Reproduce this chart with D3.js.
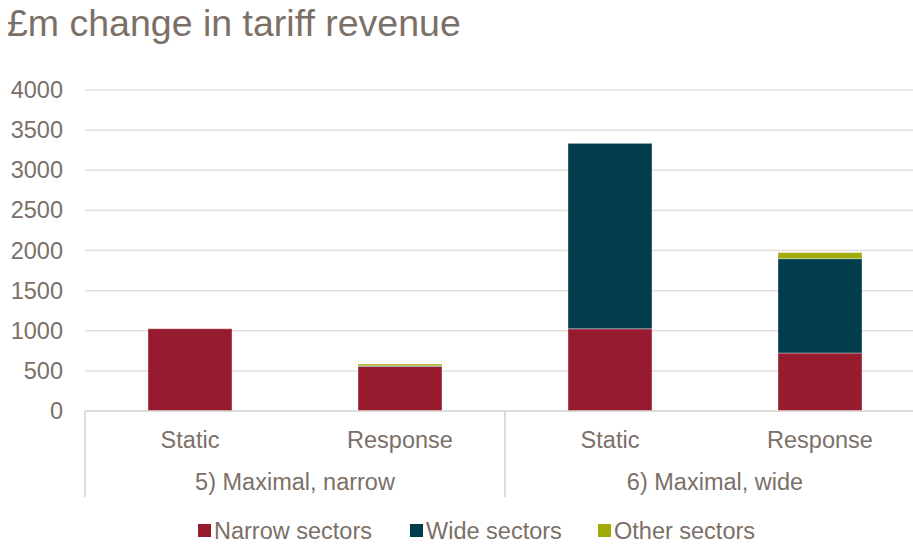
<!DOCTYPE html>
<html>
<head>
<meta charset="utf-8">
<script src="https://cdn.jsdelivr.net/npm/d3@7"></script>
<style>
  html, body { margin: 0; padding: 0; background: #fff; }
  svg { display: block; font-family: "Liberation Sans", Arial, sans-serif; }
</style>
</head>
<body>
<svg id="chart" width="913" height="546"></svg>
<script>
// Scenario groups and the two cases shown within each
const groups = ["5) Maximal, narrow", "6) Maximal, wide"];
const cases = ["Static", "Response"];
const seriesNames = ["Narrow sectors", "Wide sectors", "Other sectors"];
const seriesColors = ["#971b2f", "#023d4e", "#a2aa0a"];

// £m per bar, in order: 5 Static, 5 Response, 6 Static, 6 Response
const narrowValues = [1025, 555, 1025, 723];
const wideValues = [0, 8, 2310, 1175];
const otherValues = [0, 22, 0, 75];

const yTicks = [0, 500, 1000, 1500, 2000, 2500, 3000, 3500, 4000];

const textColor = "#7b7068";
const gridColor = "#e2dedb";
const fontSize = 23.5;

const rows = [];
groups.forEach((g, gi) => cases.forEach((c, ci) => {
  const i = gi * cases.length + ci;
  rows.push({
    key: g + "|" + c, group: g, label: c,
    "Narrow sectors": narrowValues[i],
    "Wide sectors": wideValues[i],
    "Other sectors": otherValues[i]
  });
}));

const svg = d3.select("#chart");
const plotLeft = 85, plotRight = 925, plotTop = 90, plotBottom = 411;

const x = d3.scaleBand()
  .domain(rows.map(d => d.key))
  .range([plotLeft, plotRight])
  .paddingInner(0.6)
  .paddingOuter(0.3);

const y = d3.scaleLinear().domain([0, 4000]).range([plotBottom, plotTop]);

// Title
svg.append("text")
  .attr("x", 7).attr("y", 36)
  .attr("fill", textColor)
  .attr("font-size", 37.5)
  .text("£m change in tariff revenue");

// Gridlines
svg.append("g").selectAll("line")
  .data(yTicks.filter(t => t > 0))
  .join("line")
  .attr("x1", plotLeft).attr("x2", 913)
  .attr("y1", d => y(d)).attr("y2", d => y(d))
  .attr("stroke", gridColor).attr("stroke-width", 1.5);

// Y axis labels
const yAxis = d3.axisLeft(y).tickValues(yTicks).tickFormat(d3.format("d")).tickSize(0).tickPadding(22);
const yG = svg.append("g").attr("transform", `translate(${plotLeft},0)`).call(yAxis);
yG.select(".domain").remove();
yG.selectAll("text")
  .attr("fill", textColor)
  .attr("font-size", fontSize)
  .attr("font-family", "Liberation Sans, Arial, sans-serif");

// Stacked bars
const stack = d3.stack().keys(seriesNames);
const stacked = stack(rows);
svg.append("g").selectAll("g")
  .data(stacked)
  .join("g")
  .attr("fill", (d, i) => seriesColors[i])
  .selectAll("rect")
  .data(d => d.filter(p => p[1] - p[0] > 0))
  .join("rect")
  .attr("x", d => x(d.data.key))
  .attr("width", x.bandwidth())
  .attr("y", d => y(d[1]))
  .attr("height", d => y(d[0]) - y(d[1]))
  .attr("stroke", "#ffffff")
  .attr("stroke-opacity", 0.35)
  .attr("stroke-width", 1);

// Category axis: baseline and group separators
svg.append("line")
  .attr("x1", plotLeft).attr("x2", 913)
  .attr("y1", plotBottom).attr("y2", plotBottom)
  .attr("stroke", "#d6d1cd").attr("stroke-width", 1.5);

const groupWidth = (plotRight - plotLeft) / groups.length;
const sepX = d3.range(groups.length).map(i => plotLeft + i * groupWidth);
svg.append("g").selectAll("line")
  .data(sepX)
  .join("line")
  .attr("x1", d => d).attr("x2", d => d)
  .attr("y1", plotBottom).attr("y2", 497)
  .attr("stroke", "#d6d1cd").attr("stroke-width", 1.5);

// Case labels
svg.append("g").selectAll("text")
  .data(rows)
  .join("text")
  .attr("x", d => x(d.key) + x.bandwidth() / 2)
  .attr("y", 448)
  .attr("text-anchor", "middle")
  .attr("fill", textColor)
  .attr("font-size", fontSize)
  .text(d => d.label);

// Group labels
svg.append("g").selectAll("text")
  .data(groups)
  .join("text")
  .attr("x", (d, i) => {
    const ks = rows.filter(r => r.group === d).map(r => x(r.key) + x.bandwidth() / 2);
    return (d3.min(ks) + d3.max(ks)) / 2;
  })
  .attr("y", 490)
  .attr("text-anchor", "middle")
  .attr("fill", textColor)
  .attr("font-size", fontSize)
  .text(d => d);

// Legend
const legendX = [198, 410, 598];
const legend = svg.append("g").selectAll("g")
  .data(seriesNames)
  .join("g")
  .attr("transform", (d, i) => `translate(${legendX[i]},524)`);
legend.append("rect")
  .attr("width", 13).attr("height", 13)
  .attr("fill", (d, i) => seriesColors[i]);
legend.append("text")
  .attr("x", 16).attr("y", 15)
  .attr("fill", textColor)
  .attr("font-size", fontSize)
  .text(d => d);
</script>
</body>
</html>
